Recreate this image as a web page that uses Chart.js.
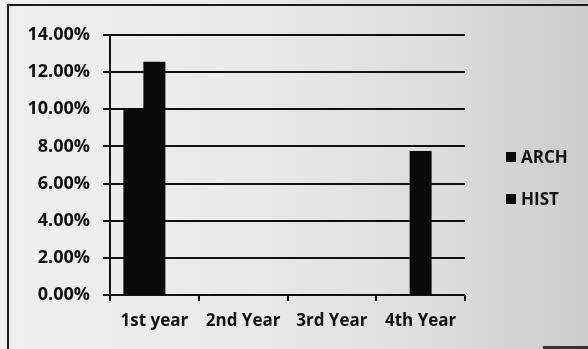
<!DOCTYPE html>
<html>
<head>
<meta charset="utf-8">
<script src="https://cdn.jsdelivr.net/npm/chart.js@4/dist/chart.umd.min.js"></script>
<style>
  html, body { margin: 0; padding: 0; }
  body { width: 588px; height: 349px; overflow: hidden; }
  #frame {
    position: relative;
    width: 588px; height: 349px;
    background: linear-gradient(to right, #efefef 0%, #e9e9e9 45%, #dcdcdc 75%, #cbcbcb 100%);
  }
  #frame::before {
    content: ""; position: absolute; left: 7px; top: 4px; right: 0; bottom: 0;
    border-left: 2px solid #1c1c1c; border-top: 2px solid #1c1c1c;
  }
  #frame::after {
    content: ""; position: absolute; left: 543px; right: 0; top: 346px; height: 3px;
    background: #333;
  }
  canvas { position: absolute; left: 0; top: 0; }
</style>
</head>
<body>
<div id="frame"><canvas id="c" width="588" height="349"></canvas></div>
<script>
// Share of students by year of study
const categories = ['1st year', '2nd Year', '3rd Year', '4th Year'];
const archValues = [10.0, 0, 0, 0];
const histValues = [12.5, 0, 0, 7.7];
// third series slot kept empty in the source workbook
const blankValues = [null, null, null, null];
const yTicks = [0, 2, 4, 6, 8, 10, 12, 14];

const INK = '#111111';
const FONT = '"Open Sans", "Liberation Sans", sans-serif';

const sideLegend = {
  id: 'sideLegend',
  afterDraw(chart) {
    const { ctx, chartArea } = chart;
    ctx.save();
    ctx.font = '700 17px ' + FONT;
    ctx.textBaseline = 'middle';
    let y = chartArea.top + 122;
    chart.data.datasets.forEach(ds => {
      if (!ds.label) return;
      ctx.fillStyle = ds.backgroundColor;
      ctx.fillRect(chartArea.right + 41, y - 5, 10, 10);
      ctx.fillStyle = INK;
      ctx.fillText(ds.label, chartArea.right + 56, y + 1);
      y += 42;
    });
    ctx.restore();
  }
};

new Chart(document.getElementById('c'), {
  type: 'bar',
  data: {
    labels: categories,
    datasets: [
      { label: 'ARCH', data: archValues, backgroundColor: '#0a0a0a' },
      { label: 'HIST', data: histValues, backgroundColor: '#0a0a0a' },
      { label: '', data: blankValues, backgroundColor: '#0a0a0a' }
    ]
  },
  options: {
    responsive: false,
    animation: false,
    devicePixelRatio: 1,
    categoryPercentage: 0.676,
    barPercentage: 1.0,
    inflateAmount: 1,
    layout: { padding: { left: 8, top: 35, right: 123, bottom: 0 } },
    plugins: { legend: { display: false }, tooltip: { enabled: false } },
    scales: {
      x: {
        afterFit(scale) { scale.height = 54; },
        grid: { drawOnChartArea: false, color: INK, lineWidth: 2, tickLength: 6, offset: true },
        border: { display: false },
        ticks: { color: INK, font: { family: FONT, size: 17, weight: '700' }, padding: 10 }
      },
      y: {
        min: 0, max: 14,
        afterFit(scale) { scale.width = 102; },
        afterBuildTicks(scale) { scale.ticks = yTicks.map(v => ({ value: v })); },
        grid: { color: INK, lineWidth: 2, tickLength: 7 },
        border: { display: true, color: INK, width: 2 },
        ticks: {
          color: INK, padding: 13,
          font: { family: FONT, size: 18, weight: '700' },
          callback: v => v.toFixed(2) + '%'
        }
      }
    }
  },
  plugins: [sideLegend]
});
</script>
</body>
</html>
